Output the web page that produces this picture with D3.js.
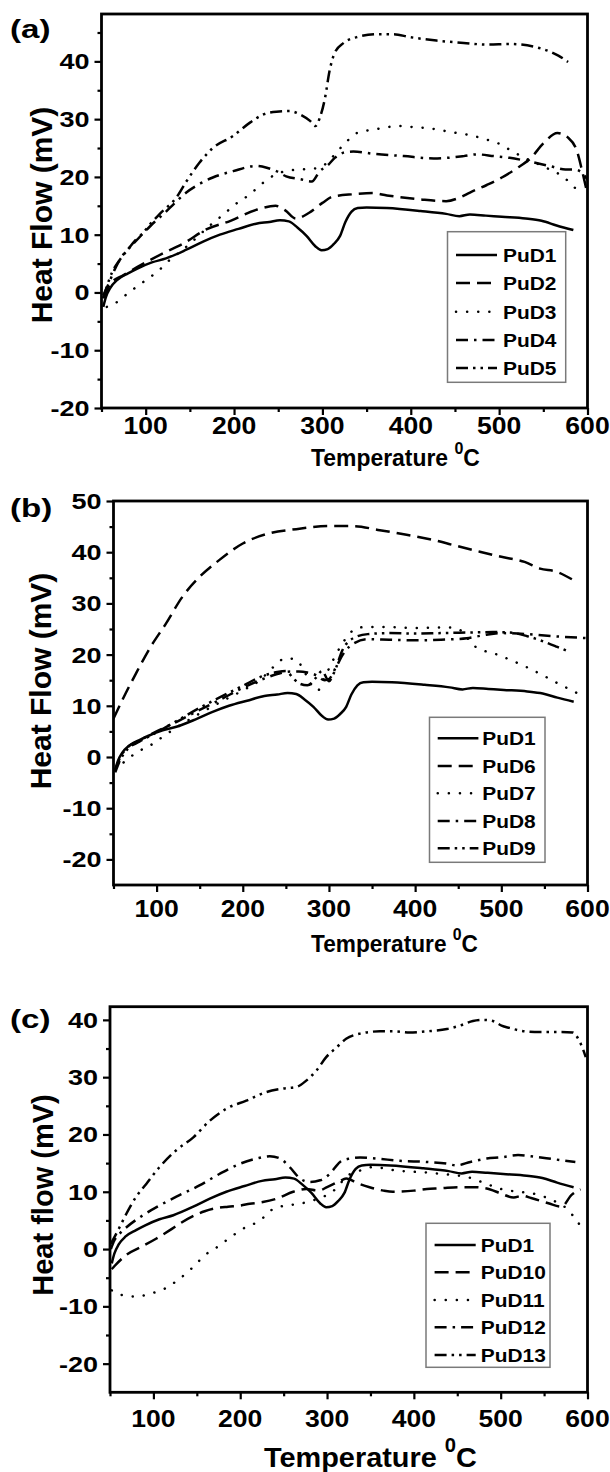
<!DOCTYPE html>
<html><head><meta charset="utf-8">
<script src="https://cdn.jsdelivr.net/npm/d3@7"></script>
<style>
body{margin:0;background:#fff}
text{font-family:"Liberation Sans",Arial,Helvetica,sans-serif;font-weight:bold;fill:#000}
</style>
</head><body>
<svg id="chart" width="610" height="1472"></svg>
<script>
// ---------------- data ----------------
const xTickValues = [100, 200, 300, 400, 500, 600];
const xMinorValues = [50, 150, 250, 350, 450, 550];
const yTicksA = [-20, -10, 0, 10, 20, 30, 40];
const yTicksB = [-20, -10, 0, 10, 20, 30, 40, 50];
const yTicksC = [-20, -10, 0, 10, 20, 30, 40];

const pud1 = [[52,-2.5],[55,-0.8],[60,0.8],[68,2.2],[80,3.3],[90,4.1],[107,5.2],[123,5.9],[146,7.4],[165,8.8],[184,10],[205,11],[225,11.9],[240,12.2],[252,12.5],[262,12.3],[272,11.2],[282,9.8],[292,8],[299,7.3],[306,7.5],[313,8.4],[320,9.8],[326,12.2],[333,14],[340,14.6],[350,14.7],[373,14.6],[411,14.1],[440,13.6],[455,13.2],[467,13.5],[485,13.3],[503,13.1],[530,12.8],[548,12.4],[565,11.6],[584,10.8]];
const pud2 = [[52,-1],[60,1.5],[75,3],[100,5.2],[120,6.8],[144,8.6],[167,10.8],[196,12.4],[225,14.3],[247,15],[258,14.2],[270,12.8],[285,13.8],[300,15.5],[312,16.6],[335,17.0],[357,17.2],[373,16.8],[411,16.1],[440,15.8],[455,16.4],[467,17.3],[486,18.6],[503,19.9],[520,21.5],[536,23.3],[550,25.8],[566,27.6],[578,26.8],[588,24.5],[594,21],[600,17]];
const pud3 = [[56,-2.5],[64,-2],[81,0],[99,2],[114,3.7],[127,5.6],[142,7.4],[157,9.4],[172,11.5],[188,13.5],[201,15.2],[218,17],[233,19],[248,20.5],[263,21.1],[278,21.3],[293,21.5],[305,22.4],[314,23.9],[326,25.9],[339,27.6],[358,28.2],[388,28.8],[405,28.6],[422,28.4],[437,28],[452,27.6],[468,27.2],[485,26.5],[502,25.6],[513,24.6],[530,23.2],[550,21.8],[575,19.7],[585,18.2],[595,17.5]];
const pud4 = [[52,-0.5],[58,1.5],[65,4],[72,6],[80,7.5],[90,9.3],[100,10.7],[110,12.2],[121,13.7],[133,15.5],[146,17.3],[160,18.7],[176,19.9],[199,21],[225,21.9],[237,21.6],[248,21],[259,20.1],[275,19.6],[288,19.2],[297,21],[306,22],[314,23.3],[324,24.2],[335,24.4],[358,24],[392,23.6],[426,23.2],[441,23.3],[460,23.6],[475,23.9],[494,23.6],[512,23.3],[530,22.8],[557,21.9],[575,21.3],[585,21.3],[593,20.8],[600,19.5]];
const pud5 = [[52,-1],[56,1],[62,3.5],[70,5.5],[82,7.8],[95,9.9],[105,11.8],[116,13.6],[135,16.5],[146,19.2],[161,22.5],[176,25],[199,27.1],[218,29.4],[233,30.8],[248,31.3],[263,31.4],[275,30.8],[286,29.7],[292,28.8],[297,30.2],[303,33.7],[308,38.3],[314,41.5],[324,43.2],[339,44.2],[362,44.7],[380,44.7],[399,44.2],[429,43.6],[460,43.2],[486,42.9],[513,43],[548,42.2],[567,41],[578,39.9]];

const pud6 = [[50,7.5],[64,12.4],[76,16.3],[93,21.5],[111,26.1],[130,31.3],[150,35.2],[173,38.5],[200,41.7],[231,43.7],[262,44.5],[300,45.1],[328,45.1],[359,44.3],[390,43.4],[421,42.4],[444,41.4],[475,40.1],[500,39.1],[527,38.1],[545,36.8],[564,36.2],[584,34.5]];
const pud7 = [[52,-2.5],[60,-1.3],[68,-0.2],[77,0.9],[93,2.3],[110,4.3],[130,6.5],[150,8.5],[175,10.8],[200,13],[220,15],[235,17.5],[250,19.3],[262,19],[272,16.5],[280,14],[287,13],[295,15.5],[305,19],[315,22],[325,24.3],[335,25.3],[360,25.4],[400,25.2],[440,25.3],[455,24.5],[465,22.2],[476,21],[492,20.2],[510,19],[530,17.5],[550,15.8],[570,14],[582,13],[593,12]];
const pud8 = [[52,-2.5],[58,0],[66,1.8],[80,3.2],[100,5],[125,7],[150,9.2],[175,11.3],[200,13.5],[220,15],[240,16.2],[255,16.7],[265,16.7],[275,16.5],[285,16],[295,15],[300,15.2],[308,17.5],[318,20.5],[330,22.3],[345,23],[370,22.9],[400,22.8],[430,22.9],[460,23.2],[480,23.8],[500,24.2],[530,24],[560,23.6],[590,23.3],[600,23.2]];
const pud9 = [[52,-3],[58,-0.5],[66,1.5],[80,3],[100,4.8],[125,7.2],[150,9.6],[175,11.8],[200,13.9],[220,15.6],[240,16.6],[250,16.8],[258,15.5],[265,14.4],[275,14],[285,15.5],[292,16.8],[300,14.8],[306,16.5],[316,21],[328,23.2],[345,24],[370,24.2],[400,24.1],[430,24.2],[460,24.3],[490,24.4],[510,24.3],[530,23.6],[550,22.5],[565,21.5],[578,20.6]];

const pud10 = [[52,-3.5],[55,-3],[69,-1],[85,0.3],[103,1.8],[119,3.3],[132,4.6],[145,5.7],[159,6.6],[171,7.1],[186,7.4],[200,7.6],[211,7.9],[226,8.2],[242,8.8],[261,10],[276,10.5],[290,10.2],[300,10.8],[314,11.8],[322,12.3],[335,11.5],[349,10.8],[365,10.2],[376,10],[400,10.2],[415,10.5],[430,10.6],[453,10.8],[469,10.8],[488,10.4],[500,9.7],[515,9.0],[525,9.3],[535,8.9],[555,8],[570,7.4],[582,9.5],[592,10.4]];
const pud11 = [[52,-7.2],[58,-7.8],[67,-8.1],[80,-8.3],[96,-7.8],[113,-6.9],[130,-5.2],[146,-3.1],[159,-1.1],[175,0.5],[190,2.2],[205,3.7],[222,4.9],[238,7],[253,7.6],[268,7.9],[284,8.5],[298,9.3],[310,10.5],[322,12.6],[338,13.7],[353,14.3],[380,13.7],[420,13.3],[445,12.9],[461,12.6],[480,11.6],[500,10.5],[520,10],[540,9.6],[560,8.5],[575,7.2],[585,5.5],[593,3.8]];
const pud12 = [[51,0],[55,1.5],[60,2.5],[69,3.8],[88,5.9],[107,7.6],[130,9.4],[153,11.1],[176,13.1],[200,14.9],[219,15.8],[234,16.2],[246,15.8],[257,14.3],[269,12.3],[280,11.7],[292,12],[303,13.1],[315,15.2],[326,15.8],[338,16],[357,15.8],[384,15.4],[415,15.2],[438,14.9],[449,14.6],[465,15.2],[484,15.8],[500,16],[520,16.4],[540,16.1],[560,15.7],[586,15.2]];
const pud13 = [[51,0.9],[61,3.8],[69,6.2],[80,9.1],[92,11.4],[107,14.3],[126,17.2],[146,19.5],[165,22.4],[184,24.5],[207,25.9],[230,27.4],[249,28],[265,28.3],[276,29.4],[288,31.2],[299,33.5],[311,35.2],[322,36.7],[338,37.6],[361,38],[376,38],[395,37.8],[415,38],[438,38.4],[453,39],[468,39.8],[480,40],[491,39.8],[501,39],[510,38.6],[528,38],[545,37.9],[570,37.9],[583,37.8],[590,36.5],[595,34.8],[598,33.5]];

const styles = {
  solid: null,
  dash: "14,7",
  dot: "0.1,11",
  dashdot: "12,6,2.5,6",
  dashdotdot: "12,5,2.5,5,2.5,5"
};

const panels = [
  { tag: "(a)", tagY: 38, yTitle: "Heat Flow (mV)", yTitleSize: 30, yTitleX: 41, yTitleY: 215,
    xr: [101.5, 587.5], yr: [408, 14], yd: [-20, 48.2], yTicks: yTicksA,
    xLabelBase: 433.7, xTitle: {x: 311, y: 466, size: 24, w: 169},
    legend: {x0: 447.5, x1: 565.7, y0: 231.7, y1: 382.3, rows: [255, 283, 311.7, 340, 368], s0: 456, s1: 497, tx: 503},
    series: [["PuD1", pud1, "solid"], ["PuD2", pud2, "dash"], ["PuD3", pud3, "dot"], ["PuD4", pud4, "dashdot"], ["PuD5", pud5, "dashdotdot"]] },
  { tag: "(b)", tagY: 516.5, yTitle: "Heat Flow (mV)", yTitleSize: 30, yTitleX: 40, yTitleY: 681,
    xr: [113.5, 587.5], yr: [885, 501], yd: [-25, 50], yTicks: yTicksB,
    xLabelBase: 916.7, xTitle: {x: 311, y: 952.3, size: 24, w: 167},
    legend: {x0: 429.5, x1: 545, y0: 717.3, y1: 862.3, rows: [738.3, 766, 793.3, 821, 848.3], s0: 437.7, s1: 478.4, tx: 482.3},
    series: [["PuD1", pud1, "solid"], ["PuD6", pud6, "dash"], ["PuD7", pud7, "dot"], ["PuD8", pud8, "dashdot"], ["PuD9", pud9, "dashdotdot"]] },
  { tag: "(c)", tagY: 1028, yTitle: "Heat flow (mV)", yTitleSize: 29, yTitleX: 43, yTitleY: 1195,
    xr: [110, 587.5], yr: [1392.3, 1006.7], yd: [-25, 42.3], yTicks: yTicksC,
    xLabelBase: 1426.7, xTitle: {x: 264, y: 1466.7, size: 28, w: 213},
    legend: {x0: 426, x1: 550, y0: 1223.3, y1: 1367.3, rows: [1245, 1272.3, 1300, 1327.3, 1355], s0: 434.6, s1: 475.7, tx: 480.8},
    series: [["PuD1", pud1, "solid"], ["PuD10", pud10, "dash"], ["PuD11", pud11, "dot"], ["PuD12", pud12, "dashdot"], ["PuD13", pud13, "dashdotdot"]] }
];

// ---------------- drawing ----------------
const svg = d3.select("#chart");

function stretchedText(parent, x, y, str, size, sx, anchor) {
  const g = parent.append("g").attr("transform", `translate(${x},${y}) scale(${sx},1)`);
  g.append("text").attr("font-size", size).attr("text-anchor", anchor || "start").text(str);
  return g;
}

panels.forEach((p, i) => {
  const x = d3.scaleLinear().domain([50, 600]).range(p.xr);
  const y = d3.scaleLinear().domain(p.yd).range(p.yr);
  const g = svg.append("g");
  const clipId = "clip" + i;
  svg.append("clipPath").attr("id", clipId).append("rect")
    .attr("x", p.xr[0]).attr("y", p.yr[1]).attr("width", p.xr[1] - p.xr[0]).attr("height", p.yr[0] - p.yr[1]);

  const yMinor = d3.range(-25, 50, 10).filter(v => v > p.yd[0] && v < p.yd[1]);
  const tickStyle = a => { a.select(".domain").remove(); a.selectAll("line").attr("stroke-width", 2.2); };
  g.append("g").attr("transform", `translate(0,${p.yr[0]})`)
    .call(d3.axisBottom(x).tickValues(xMinorValues).tickSize(4).tickFormat("")).call(tickStyle);
  g.append("g").attr("transform", `translate(${p.xr[0]},0)`)
    .call(d3.axisLeft(y).tickValues(yMinor).tickSize(4).tickFormat("")).call(tickStyle);
  g.append("g").attr("transform", `translate(0,${p.yr[0]})`)
    .call(d3.axisBottom(x).tickValues(xTickValues).tickSize(7).tickFormat("")).call(tickStyle);
  g.append("g").attr("transform", `translate(${p.xr[0]},0)`)
    .call(d3.axisLeft(y).tickValues(p.yTicks).tickSize(7).tickFormat("")).call(tickStyle);

  g.append("rect").attr("x", p.xr[0]).attr("y", p.yr[1])
    .attr("width", p.xr[1] - p.xr[0]).attr("height", p.yr[0] - p.yr[1])
    .attr("fill", "none").attr("stroke", "#000").attr("stroke-width", 2.8);

  xTickValues.forEach(v => stretchedText(g, x(v), p.xLabelBase, String(v), 23.5, 1.13, "middle"));
  p.yTicks.forEach(v => stretchedText(g, p.xr[0] - 12, y(v) + 8, String(v), 22.5, 1.2, "end"));

  g.append("text").attr("transform", `translate(${p.yTitleX + p.yTitleSize * 0.36},${p.yTitleY}) rotate(-90)`)
    .attr("font-size", p.yTitleSize).attr("text-anchor", "middle").text(p.yTitle);

  const xt = p.xTitle;
  const tg = g.append("g");
  const t = tg.append("text").attr("font-size", xt.size);
  t.append("tspan").text("Temperature ");
  t.append("tspan").attr("font-size", xt.size * 0.7).attr("dy", -xt.size * 0.52).text("0");
  t.append("tspan").attr("dy", xt.size * 0.52).text("C");
  const w = t.node().getComputedTextLength();
  tg.attr("transform", `translate(${xt.x},${xt.y}) scale(${xt.w / w},1)`);

  stretchedText(g, 10, p.tagY, p.tag, 25.5, 1.3, "start");

  const line = d3.line().x(d => x(d[0])).y(d => y(d[1])).curve(d3.curveMonotoneX);
  const cg = g.append("g").attr("clip-path", `url(#${clipId})`);
  p.series.forEach(s => {
    cg.append("path").datum(s[1]).attr("d", line)
      .attr("fill", "none").attr("stroke", "#000").attr("stroke-width", 2.5)
      .attr("stroke-linecap", s[2] === "dot" ? "round" : "butt")
      .attr("stroke-dasharray", styles[s[2]]);
  });

  const L = p.legend;
  g.append("rect").attr("x", L.x0).attr("y", L.y0).attr("width", L.x1 - L.x0).attr("height", L.y1 - L.y0)
    .attr("fill", "#fff").attr("stroke", "#7a7a7a").attr("stroke-width", 1.5);
  p.series.forEach((s, k) => {
    g.append("line").attr("x1", L.s0).attr("x2", L.s1).attr("y1", L.rows[k]).attr("y2", L.rows[k])
      .attr("stroke", "#000").attr("stroke-width", 2.5)
      .attr("stroke-linecap", s[2] === "dot" ? "round" : "butt")
      .attr("stroke-dasharray", styles[s[2]]);
    stretchedText(g, L.tx, L.rows[k] + 7, s[0], 19, 1.1, "start");
  });
});
</script>
</body></html>
